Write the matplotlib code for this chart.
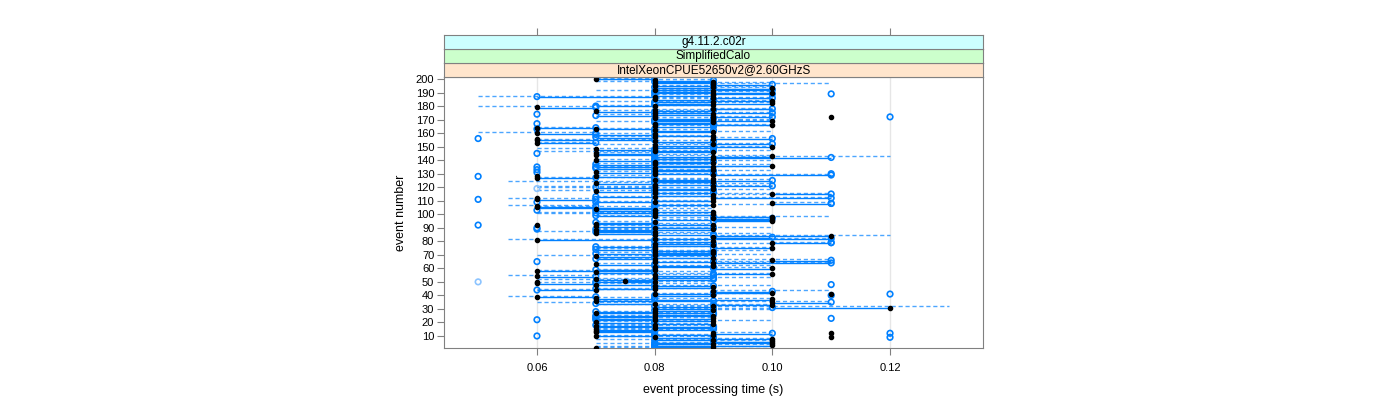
import numpy as np
import matplotlib
matplotlib.use('Agg')
from matplotlib import pyplot as plt

# event processing times in ms, events 1..200
black_ms = [70, 90, 100, 90, 100, 100, 90, 100, 80, 70,
            90, 90, 70, 70, 70, 80, 70, 80, 90, 70,
            90, 80, 90, 80, 90, 80, 70, 80, 90, 80,
            120, 90, 100, 80, 100, 70, 100, 70, 60, 90,
            80, 100, 90, 70, 80, 90, 80, 70, 60, 80,
            75, 70, 80, 60, 80, 100, 70, 60, 80, 100,
            80, 90, 70, 90, 80, 100, 80, 90, 70, 80,
            90, 80, 90, 80, 100, 80, 90, 80, 100, 90,
            60, 80, 90, 110, 80, 70, 80, 70, 90, 80,
            70, 90, 70, 80, 100, 100, 90, 100, 80, 90,
            80, 90, 80, 70, 60, 60, 90, 100, 80, 90,
            60, 90, 80, 90, 100, 80, 70, 80, 90, 80,
            90, 80, 70, 90, 80, 90, 60, 70, 90, 80,
            70, 80, 90, 80, 90, 100, 80, 90, 80, 70,
            90, 90, 100, 70, 70, 90, 80, 70, 80, 100,
            80, 90, 60, 80, 60, 90, 80, 90, 80, 60,
            90, 80, 70, 60, 80, 100, 80, 90, 100, 90,
            80, 90, 80, 90, 80, 70, 80, 90, 60, 80,
            90, 100, 90, 100, 80, 90, 80, 90, 90, 100,
            90, 80, 100, 90, 80, 90, 80, 90, 80, 70]
blue_ms = [80, 80, 80, 80, 80, 90, 80, 90, 90, 80,
           80, 100, 80, 80, 90, 90, 90, 70, 80, 80,
           80, 70, 70, 70, 70, 90, 90, 70, 80, 90,
           100, 80, 90, 70, 110, 90, 80, 80, 70, 80,
           90, 90, 100, 60, 70, 80, 90, 80, 70, 70,
           80, 90, 90, 70, 90, 90, 80, 80, 70, 90,
           90, 80, 80, 110, 90, 110, 70, 80, 80, 90,
           70, 90, 80, 70, 90, 70, 80, 90, 110, 80,
           80, 110, 100, 90, 90, 80, 70, 80, 70, 90,
           80, 80, 80, 70, 90, 80, 100, 90, 70, 80,
           70, 80, 70, 80, 80, 70, 80, 110, 70, 80,
           70, 110, 70, 80, 110, 90, 80, 90, 80, 70,
           100, 90, 80, 80, 100, 80, 70, 80, 110, 90,
           80, 90, 80, 70, 70, 80, 70, 80, 90, 80,
           80, 110, 80, 80, 80, 80, 90, 80, 90, 90,
           90, 100, 70, 90, 80, 100, 70, 80, 70, 70,
           80, 90, 80, 70, 90, 90, 90, 80, 80, 80,
           90, 100, 70, 80, 100, 80, 90, 100, 70, 70,
           80, 80, 80, 90, 90, 100, 60, 80, 100, 80,
           80, 100, 90, 80, 90, 100, 90, 80, 90, 80]
dash_lo_ms = [70, 70, 80, 70, 80, 90, 70, 80, 70, 70,
              80, 90, 70, 70, 70, 80, 70, 70, 80, 70,
              80, 70, 70, 70, 70, 70, 70, 70, 80, 80,
              80, 80, 70, 60, 90, 70, 80, 70, 55, 80,
              80, 90, 90, 60, 70, 80, 80, 70, 60, 70,
              60, 70, 80, 55, 70, 80, 70, 60, 70, 90,
              80, 80, 70, 90, 80, 90, 70, 80, 60, 80,
              70, 80, 70, 70, 90, 70, 80, 80, 100, 80,
              55, 80, 90, 90, 80, 70, 60, 70, 70, 80,
              70, 80, 70, 70, 90, 80, 80, 90, 70, 60,
              60, 80, 70, 70, 60, 55, 80, 100, 70, 80,
              55, 90, 70, 80, 90, 80, 60, 80, 60, 60,
              90, 80, 70, 55, 80, 80, 60, 70, 90, 80,
              70, 80, 70, 70, 70, 80, 70, 80, 80, 70,
              80, 90, 80, 70, 70, 60, 80, 60, 80, 90,
              70, 80, 60, 80, 60, 90, 70, 80, 70, 50,
              80, 80, 70, 60, 80, 90, 80, 70, 80, 80,
              80, 90, 70, 80, 80, 70, 80, 90, 50, 70,
              80, 80, 70, 90, 80, 80, 50, 80, 90, 80,
              70, 80, 90, 80, 80, 90, 80, 70, 70, 70]
dash_hi_ms = [90, 100, 100, 90, 100, 100, 90, 100, 90, 90,
              90, 100, 80, 90, 90, 90, 90, 80, 90, 80,
              100, 90, 90, 80, 90, 90, 90, 80, 100, 100,
              130, 100, 100, 80, 110, 90, 100, 80, 70, 90,
              100, 100, 110, 80, 90, 90, 100, 90, 70, 90,
              80, 90, 100, 70, 90, 100, 90, 80, 80, 100,
              90, 100, 80, 110, 100, 110, 90, 90, 80, 100,
              90, 90, 100, 80, 100, 90, 90, 100, 110, 90,
              80, 110, 100, 120, 100, 90, 80, 80, 90, 100,
              80, 90, 90, 80, 100, 100, 100, 110, 90, 90,
              80, 90, 80, 90, 90, 70, 100, 110, 90, 90,
              70, 110, 90, 100, 110, 90, 80, 100, 90, 80,
              100, 100, 90, 90, 100, 90, 80, 80, 110, 90,
              90, 100, 90, 80, 100, 100, 90, 90, 100, 90,
              90, 120, 100, 90, 80, 90, 100, 80, 90, 100,
              90, 100, 70, 90, 80, 100, 90, 90, 80, 70,
              100, 90, 80, 70, 100, 100, 90, 90, 100, 100,
              90, 100, 80, 90, 100, 90, 100, 100, 70, 90,
              90, 100, 90, 100, 100, 100, 80, 90, 100, 100,
              90, 100, 100, 100, 90, 110, 100, 90, 90, 80]

# isolated measurements
extra_blue_ev = [9, 12, 10, 22, 23, 40, 41, 48, 65, 79, 89, 90, 92, 103,
                 108, 109, 111, 128, 130, 131, 133, 135, 145, 156, 163,
                 167, 172, 174, 189]
extra_blue_ms = [120, 120, 60, 60, 110, 110, 120, 110, 60, 110, 60, 60, 50, 60,
                 110, 60, 50, 50, 110, 60, 60, 60, 60, 50, 60,
                 60, 120, 60, 110]
extra_black_ev = [9, 12, 41, 50, 92, 112, 128, 156, 172]
extra_black_ms = [110, 110, 110, 60, 60, 60, 60, 60, 110]
pale_ev = [50, 119]
pale_ms = [50, 60]

events = np.arange(1, 201)
blue_col = '#0080ff'
frame_col = '#808080'

plt.rcParams['font.family'] = ['Liberation Sans', 'DejaVu Sans']

fig = plt.figure(figsize=(14, 4), dpi=100)
ax = fig.add_axes([444/1400, 1-348/400, 539/1400, 271/400])

t = lambda v: np.asarray(v) / 1000.0

for xv in [0.06, 0.08, 0.10, 0.12]:
    ax.axvline(xv, color='#e6e6e6', lw=1, zorder=0)

b = t(black_ms)
c = t(blue_ms)
ax.hlines(events + 0.8, t(dash_lo_ms), t(dash_hi_ms), colors=blue_col,
          linestyles=(0, (3, 2)), lw=1, alpha=0.7, zorder=1)
ax.hlines(events - 0.3, np.minimum(b, c), np.maximum(b, c), colors=blue_col,
          lw=1, zorder=2)

ax.scatter(np.concatenate([c, t(extra_blue_ms)]),
           np.concatenate([events, extra_blue_ev]),
           s=16, facecolors='none', edgecolors=blue_col, linewidths=1.2, zorder=3)
ax.scatter(t(pale_ms), pale_ev, s=16, facecolors='none',
           edgecolors='#8cc4ff', linewidths=1.2, zorder=3)
ax.scatter(np.concatenate([b, t(extra_black_ms)]),
           np.concatenate([events, extra_black_ev]),
           s=9, color='black', zorder=4)

ax.set_xlim(0.0442, 0.1358)
ax.set_ylim(1.1, 201.5)
ax.set_xticks([0.06, 0.08, 0.10, 0.12])
ax.set_xticklabels(['0.06', '0.08', '0.10', '0.12'])
ax.set_yticks(np.arange(10, 201, 10))
ax.tick_params(direction='out', length=5, color=frame_col, labelsize=8, pad=2)
ax.tick_params(axis='x', pad=6)
for s in ax.spines.values():
    s.set_color(frame_col)
ax.set_xlabel('event processing time (s)', fontsize=9, labelpad=8)
ax.set_ylabel('event number', fontsize=9, labelpad=6)

# strips
strips = ['IntelXeonCPUE52650v2@2.60GHzS', 'SimplifiedCalo', 'g4.11.2.c02r']
strip_cols = ['#ffe5cc', '#ccffcc', '#ccffff']
for i, (lab, col) in enumerate(zip(strips, strip_cols)):
    top = 77 - 14 * i
    sax = fig.add_axes([444/1400, 1-top/400, 539/1400, 14/400])
    sax.set_facecolor(col)
    sax.set_xlim(ax.get_xlim())
    sax.set_yticks([])
    for s in sax.spines.values():
        s.set_color(frame_col)
    if i == 2:
        sax.set_xticks([0.06, 0.08, 0.10, 0.12])
        sax.xaxis.tick_top()
        sax.tick_params(axis='x', direction='out', length=5, color=frame_col,
                        labeltop=False)
    else:
        sax.set_xticks([])
    sax.text(0.5, 0.5, lab, transform=sax.transAxes, ha='center', va='center',
             fontsize=8.5)

fig.savefig('out.png', dpi=100)
